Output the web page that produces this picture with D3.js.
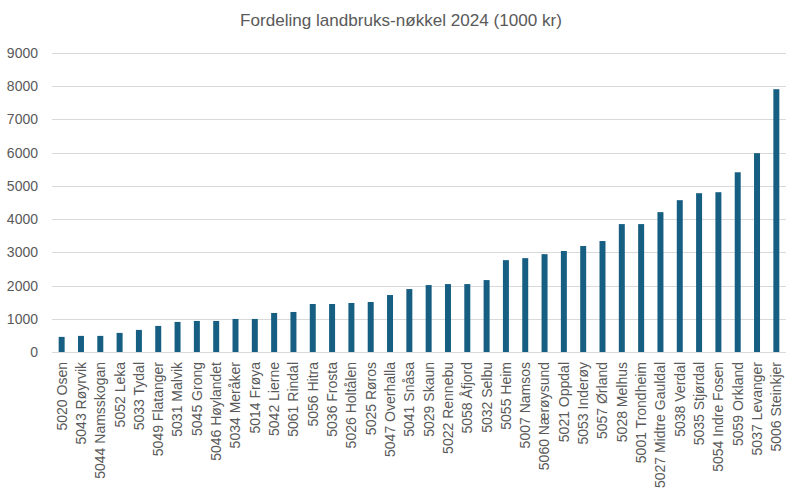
<!DOCTYPE html>
<html>
<head>
<meta charset="utf-8">
<script src="https://cdn.jsdelivr.net/npm/d3@7"></script>
<style>
  body { margin: 0; background: #fff; }
  svg { display: block; }
</style>
</head>
<body>
<svg id="chart" width="802" height="496"></svg>
<script>
'use strict';

const title = "Fordeling landbruks-nøkkel 2024 (1000 kr)";

const kommuner = [
    "5020 Osen", "5043 Røyrvik", "5044 Namsskogan", "5052 Leka", "5033 Tydal",
    "5049 Flatanger", "5031 Malvik", "5045 Grong", "5046 Høylandet", "5034 Meråker",
    "5014 Frøya", "5042 Lierne", "5061 Rindal", "5056 Hitra", "5036 Frosta",
    "5026 Holtålen", "5025 Røros", "5047 Overhalla", "5041 Snåsa", "5029 Skaun",
    "5022 Rennebu", "5058 Åfjord", "5032 Selbu", "5055 Heim", "5007 Namsos",
    "5060 Nærøysund", "5021 Oppdal", "5053 Inderøy", "5057 Ørland", "5028 Melhus",
    "5001 Trondheim", "5027 Midtre Gauldal", "5038 Verdal", "5035 Stjørdal",
    "5054 Indre Fosen", "5059 Orkland", "5037 Levanger", "5006 Steinkjer"
];

const verdier = [
    455, 485, 485, 575, 665, 785, 905, 935, 935, 995,
    995, 1175, 1205, 1445, 1445, 1475, 1505, 1715, 1895, 2015,
    2045, 2045, 2165, 2765, 2825, 2945, 3040, 3190, 3340, 3850,
    3850, 4210, 4570, 4780, 4810, 5410, 5985, 7910
];

const yTicks = [0, 1000, 2000, 3000, 4000, 5000, 6000, 7000, 8000, 9000];

const margin = { top: 53, right: 16, bottom: 144, left: 52 };
const width = 802, height = 496;
const innerW = width - margin.left - margin.right;
const innerH = height - margin.top - margin.bottom;

const svg = d3.select("#chart");
const g = svg.append("g").attr("transform", `translate(${margin.left},${margin.top})`);

const x = d3.scaleBand()
    .domain(kommuner)
    .range([0, innerW])
    .paddingInner(0.69)
    .paddingOuter(0.345);

const y = d3.scaleLinear()
    .domain([0, 9000])
    .range([innerH, 0]);

// gridlines
g.append("g")
    .selectAll("line")
    .data(yTicks)
    .join("line")
    .attr("x1", 0)
    .attr("x2", innerW)
    .attr("y1", d => Math.round(y(d)) + 0.5)
    .attr("y2", d => Math.round(y(d)) + 0.5)
    .attr("stroke", "#d9d9d9")
    .attr("stroke-width", 1);

// y axis labels
const yAxis = g.append("g")
    .call(d3.axisLeft(y).tickValues(yTicks).tickSize(0).tickPadding(14).tickFormat(d3.format("d")));
yAxis.select(".domain").remove();
yAxis.selectAll("text")
    .attr("fill", "#595959")
    .style("font-family", "'Liberation Sans', Arial, sans-serif")
    .style("font-size", "14px");

// bars
g.append("g")
    .selectAll("rect")
    .data(verdier)
    .join("rect")
    .attr("x", (d, i) => x(kommuner[i]))
    .attr("width", x.bandwidth())
    .attr("y", d => y(d))
    .attr("height", d => innerH - y(d))
    .attr("fill", "#175f82");

// x axis labels, rotated
const xAxis = g.append("g")
    .attr("transform", `translate(0,${innerH})`)
    .call(d3.axisBottom(x).tickSize(0).tickPadding(0));
xAxis.select(".domain").remove();
xAxis.selectAll("text")
    .attr("fill", "#595959")
    .style("font-family", "'Liberation Sans', Arial, sans-serif")
    .style("font-size", "14px")
    .attr("text-anchor", "end")
    .attr("dy", "0.35em")
    .attr("transform", "translate(0,10) rotate(-90)")
    .attr("x", 0)
    .attr("y", 0);

// title
svg.append("text")
    .attr("x", width / 2)
    .attr("y", 26)
    .attr("text-anchor", "middle")
    .attr("fill", "#595959")
    .attr("textLength", 322)
    .attr("lengthAdjust", "spacingAndGlyphs")
    .style("font-family", "'Liberation Sans', sans-serif")
    .style("font-size", "17px")
    .text(title);
</script>
</body>
</html>
